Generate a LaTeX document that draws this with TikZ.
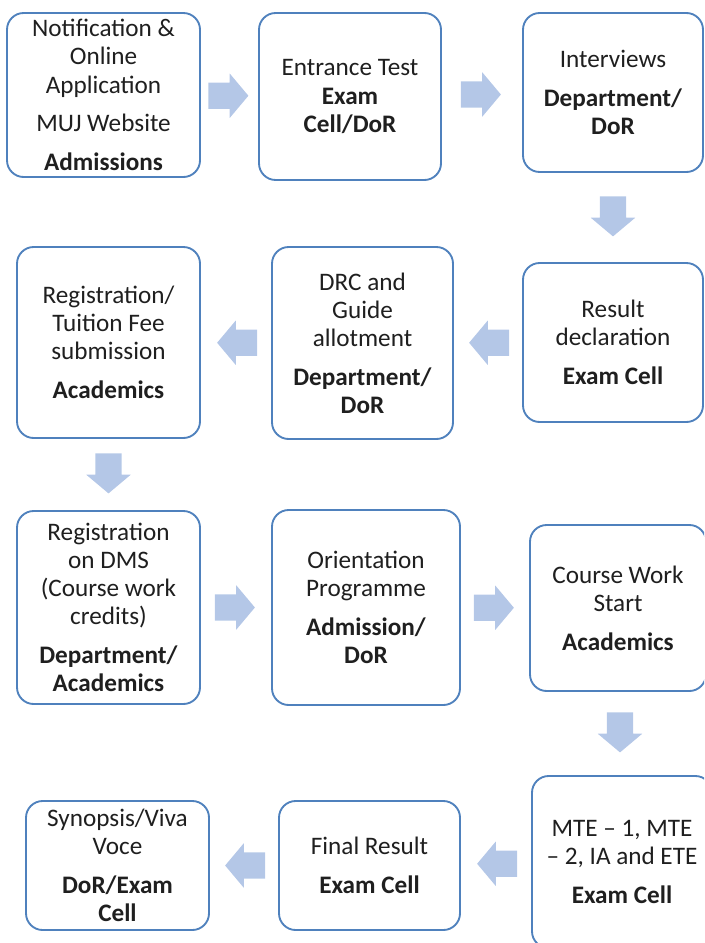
\documentclass[tikz,border=0pt]{standalone}
\usepackage{fontspec}
\setmainfont{Carlito}
\usepackage{tikz}
\usetikzlibrary{shapes,arrows}
\usetikzlibrary{calc}
\usepackage{xcolor}
\definecolor{boxblue}{HTML}{4F81BD}
\definecolor{flowblue}{HTML}{B4C7E7}

\begin{document}
\begin{tikzpicture}[
  stage/.style={draw=boxblue, line width=1.6pt, rounded corners=0.5cm, fill=white,
    align=center, inner sep=0pt, text=black!88, font=\fontsize{21.5}{24}\selectfont},
  flow/.style={single arrow, draw=none, fill=flowblue, inner xsep=0pt, inner ysep=0.39cm,
    minimum height=1.2cm, single arrow head extend=0.27cm, single arrow tip angle=100,
    rotate=#1, xshift=-0.2cm},
  flow/.default=0]
  \clip (0,0) rectangle (21.12,-28.29);

  % Admission steps, left to right
  \node[stage, minimum width=5.79cm, minimum height=4.92cm] (notif) at (3.105,-2.85)
    {Notification \&\\Online\\Application\\[9pt]MUJ Website\\[9pt]\textbf{Admissions}};
  \node[stage, minimum width=5.46cm, minimum height=5.01cm] (entrance) at (10.5,-2.895)
    {Entrance Test\\\textbf{Exam}\\\textbf{Cell/DoR}};
  \node[stage, minimum width=5.4cm, minimum height=4.77cm] (interview) at (18.39,-2.775)
    {Interviews\\[9pt]\textbf{Department/}\\\textbf{DoR}};

  % Second row, right to left
  \node[stage, minimum width=5.4cm, minimum height=4.77cm] (result) at (18.39,-10.275)
    {Result\\declaration\\[9pt]\textbf{Exam Cell}};
  \node[stage, minimum width=5.43cm, minimum height=5.76cm] (drc) at (10.875,-10.29)
    {DRC and\\Guide\\allotment\\[9pt]\textbf{Department/}\\\textbf{DoR}};
  \node[stage, minimum width=5.49cm, minimum height=5.73cm] (tuition) at (3.255,-10.275)
    {Registration/\\Tuition Fee\\submission\\[9pt]\textbf{Academics}};

  % Third row
  \node[stage, minimum width=5.49cm, minimum height=5.79cm] (dms) at (3.255,-18.225)
    {Registration\\on DMS\\(Course work\\credits)\\[9pt]\textbf{Department/}\\\textbf{Academics}};
  \node[stage, minimum width=5.64cm, minimum height=5.85cm] (orient) at (10.98,-18.225)
    {Orientation\\Programme\\[9pt]\textbf{Admission/}\\\textbf{DoR}};
  \node[stage, minimum width=5.28cm, minimum height=4.98cm] (course) at (18.54,-18.24)
    {Course Work\\Start\\[9pt]\textbf{Academics}};

  % Last row, right to left
  \node[stage, minimum width=5.4cm, minimum height=5.16cm] (mte) at (18.66,-25.86)
    {MTE -- 1, MTE\\-- 2, IA and ETE\\[9pt]\textbf{Exam Cell}};
  \node[stage, minimum width=5.43cm, minimum height=3.87cm] (final) at (11.085,-25.965)
    {Final Result\\[9pt]\textbf{Exam Cell}};
  \node[stage, minimum width=5.49cm, minimum height=3.87cm] (synopsis) at (3.525,-25.965)
    {Synopsis/Viva\\Voce\\[9pt]\textbf{DoR/Exam}\\\textbf{Cell}};

  % Block arrows between the steps
  \node[flow] (s1) at ($(notif.east)!0.5!(entrance.west)$) {};
  \node[flow] (s2) at ($(entrance.east)!0.5!(interview.west)$) {};
  \node[flow=-90] (s3) at ($(interview.south)!0.5!(result.north)$) {};
  \node[flow=180] (s4) at ($(result.west)!0.5!(drc.east)$) {};
  \node[flow=180] (s5) at ($(drc.west)!0.5!(tuition.east)$) {};
  \node[flow=-90] (s6) at ($(tuition.south)!0.5!(dms.north)$) {};
  \node[flow] (s7) at ($(dms.east)!0.5!(orient.west)$) {};
  \node[flow] (s8) at ($(orient.east)!0.5!(course.west)$) {};
  \node[flow=-90] (s9) at ($(course.south)!0.5!(mte.north)$) {};
  \node[flow=180] (s10) at ($(mte.west)!0.5!(final.east)$) {};
  \node[flow=180] (s11) at ($(final.west)!0.5!(synopsis.east)$) {};
\end{tikzpicture}
\end{document}
